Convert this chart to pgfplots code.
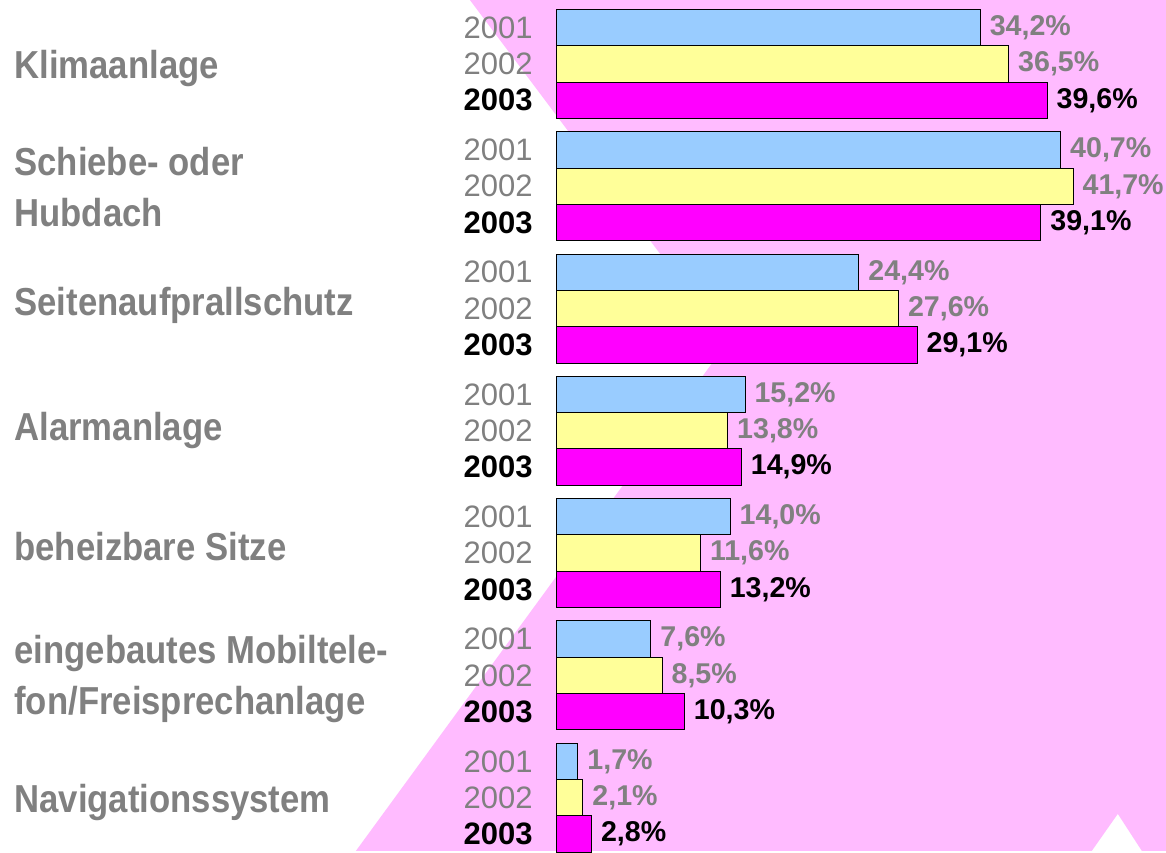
\documentclass[border=0pt]{standalone}
\usepackage{pgfplots}
\pgfplotsset{compat=1.18}
\usepackage{fontspec}
\setmainfont{Liberation Sans}
\newfontfamily\narrowfont[FakeStretch=0.89]{Liberation Sans}

\definecolor{bgpink}{RGB}{255,187,255}
\definecolor{bar01}{RGB}{153,204,255}
\definecolor{bar02}{RGB}{255,255,153}
\definecolor{bar03}{RGB}{255,0,255}
\definecolor{txtgray}{RGB}{128,128,128}

\newcommand\yr[1]{\textcolor{txtgray}{#1}}
\newcommand\yrb[1]{\textbf{#1}}

\begin{document}
\begin{tikzpicture}
% background and category labels, 1 unit = 1 px of the reference
\begin{scope}[x=0.5pt,y=-0.5pt]
  \useasboundingbox (0,0) rectangle (1166,851);
  \fill[bgpink] (470,0) -- (1166,0) -- (1166,851) -- (1142,851) -- (1118,814)
    -- (1092,851) -- (356,851) -- (727,343) -- cycle;
  \begin{scope}[every node/.style={anchor=base west, inner sep=0pt, text=txtgray,
      font=\narrowfont\bfseries\fontsize{19.5}{23}\selectfont}]
    \node at (14,79) {Klimaanlage};
    \node at (14,175.5) {Schiebe- oder};
    \node at (14,227) {Hubdach};
    \node at (14,316) {Seitenaufprallschutz};
    \node at (14,440.5) {Alarmanlage};
    \node at (14,561) {beheizbare Sitze};
    \node at (14,663.5) {eingebautes Mobiltele-};
    \node at (14,715) {fon/Freisprechanlage};
    \node at (14,812.5) {Navigationssystem};
  \end{scope}
\end{scope}

\begin{axis}[
    at={(278.5pt,0pt)}, anchor=north west,
    scale only axis, width=304.5pt, height=425.5pt,
    xbar, bar width=0.2968,
    xmin=0, xmax=49.19,
    ymin=-0.5233, ymax=6.435, y dir=reverse,
    axis line style={draw=none},
    xtick=\empty,
    ytick={-0.2968,0,0.2968, 0.7032,1,1.2968, 1.7032,2,2.2968, 2.7032,3,3.2968,
           3.7032,4,4.2968, 4.7032,5,5.2968, 5.7032,6,6.2968},
    yticklabels={\yr{2001},\yr{2002},\yrb{2003}, \yr{2001},\yr{2002},\yrb{2003},
                 \yr{2001},\yr{2002},\yrb{2003}, \yr{2001},\yr{2002},\yrb{2003},
                 \yr{2001},\yr{2002},\yrb{2003}, \yr{2001},\yr{2002},\yrb{2003},
                 \yr{2001},\yr{2002},\yrb{2003}},
    major tick length=0pt,
    yticklabel style={inner sep=0pt, xshift=-12pt, font=\fontsize{15.5}{18}\selectfont},
    clip=false,
    nodes near coords={\pgfmathprintnumber{\pgfplotspointmeta}\%},
    every node near coord/.append style={anchor=west, inner sep=0pt, xshift=4.5pt,
      font=\bfseries\fontsize{14.3}{17}\selectfont},
    /pgf/number format/fixed,
    /pgf/number format/fixed zerofill,
    /pgf/number format/precision=1,
    /pgf/number format/use comma,
    /pgf/number format/assume math mode=true,
]
% 2001
\addplot[fill=bar01, draw=black, line width=0.5pt, bar shift=-0.2968,
  every node near coord/.append style={text=txtgray}] coordinates {
  (34.2,0) (40.7,1) (24.4,2) (15.2,3) (14.0,4) (7.6,5) (1.7,6)
};
% 2002
\addplot[fill=bar02, draw=black, line width=0.5pt, bar shift=0,
  every node near coord/.append style={text=txtgray}] coordinates {
  (36.5,0) (41.7,1) (27.6,2) (13.8,3) (11.6,4) (8.5,5) (2.1,6)
};
% 2003
\addplot[fill=bar03, draw=black, line width=0.5pt, bar shift=0.2968,
  every node near coord/.append style={text=black}] coordinates {
  (39.6,0) (39.1,1) (29.1,2) (14.9,3) (13.2,4) (10.3,5) (2.8,6)
};
\end{axis}
\end{tikzpicture}
\end{document}
